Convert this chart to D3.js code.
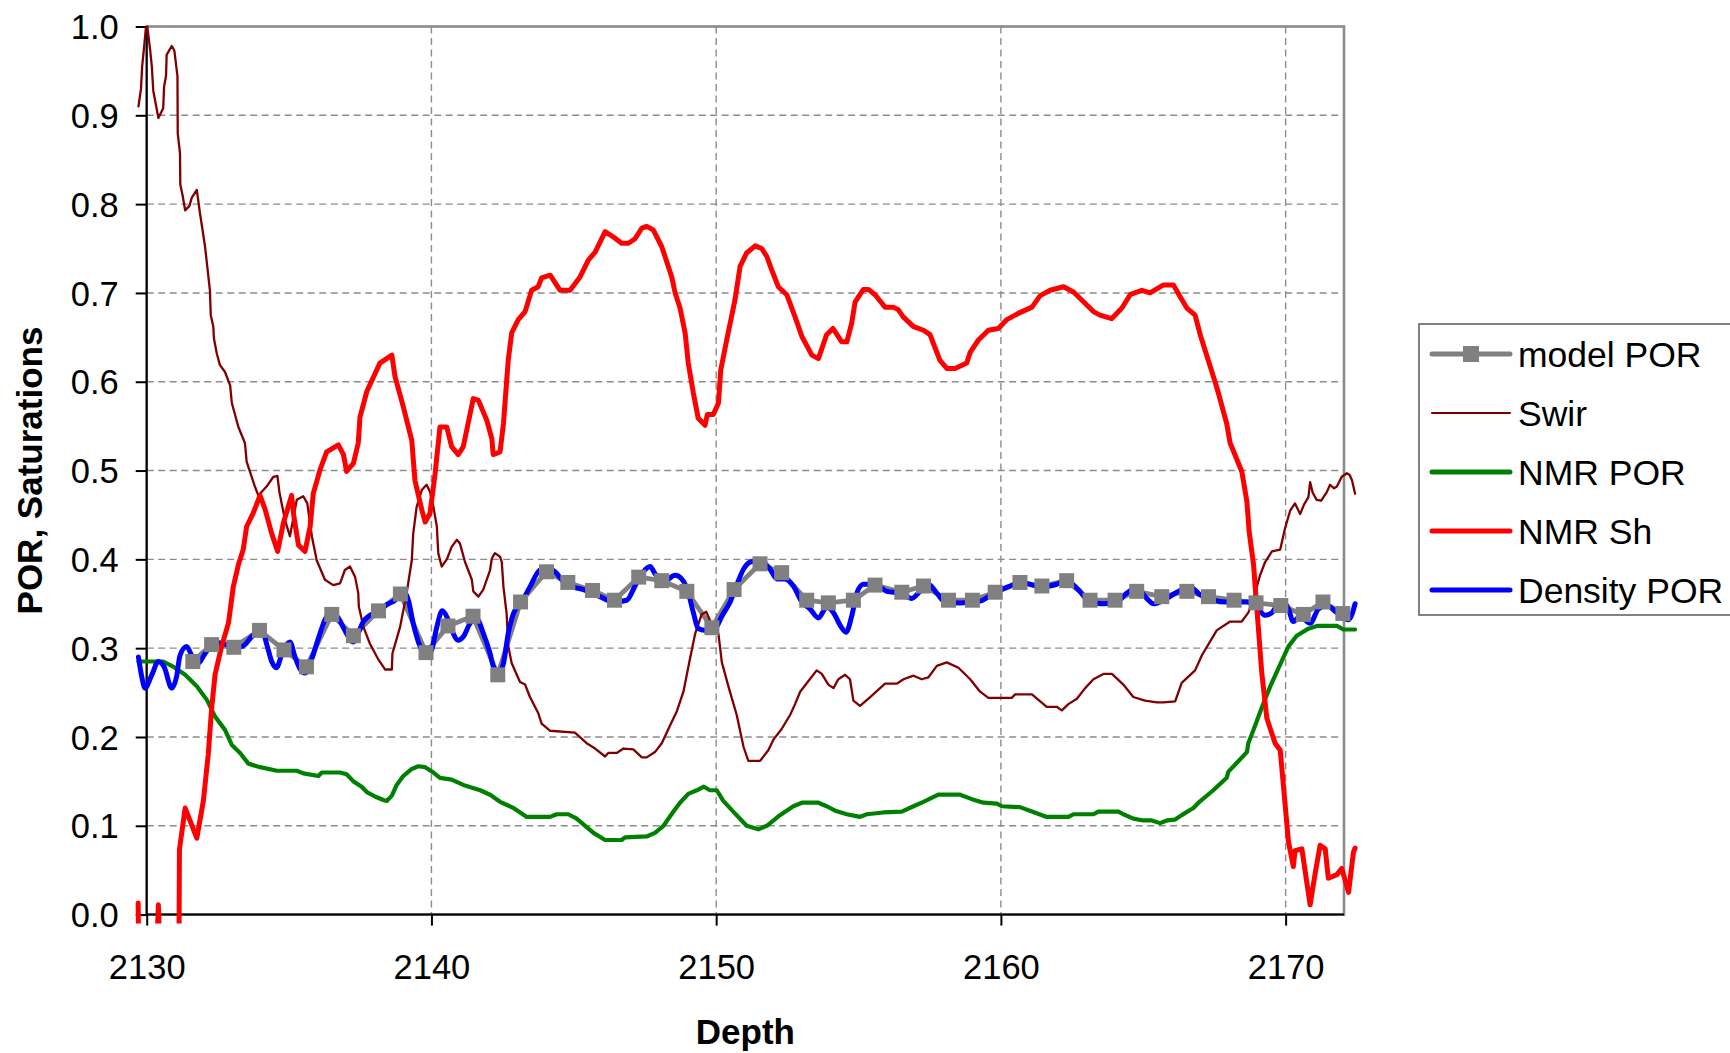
<!DOCTYPE html>
<html>
<head>
<meta charset="utf-8">
<script src="https://cdn.jsdelivr.net/npm/d3@7"></script>
<style>
  html, body { margin: 0; padding: 0; background: #ffffff; }
  svg { display: block; }
  text { font-family: "Liberation Sans", Arial, Helvetica, sans-serif; fill: #000; }
</style>
</head>
<body>
<svg id="chart" width="1730" height="1053"></svg>
<script>
// ---- axis ticks -------------------------------------------------------
const depthTicks = [2130, 2140, 2150, 2160, 2170];
const porTicks = [0.0, 0.1, 0.2, 0.3, 0.4, 0.5, 0.6, 0.7, 0.8, 0.9, 1.0];
const depthTitle = "Depth";
const porTitle = "POR, Saturations";
const seriesNames = ["model POR", "Swir", "NMR POR", "NMR Sh", "Density POR"];

// ---- series: [depth, value] -------------------------------------------
const modelPor = [
  [2131.62,0.285],[2132.28,0.304],[2133.06,0.301],[2133.96,0.320],[2134.82,0.298],
  [2135.61,0.279],[2136.50,0.338],[2137.26,0.314],[2138.14,0.342],[2138.91,0.361],
  [2139.81,0.295],[2140.58,0.325],[2141.46,0.336],[2142.33,0.270],[2143.13,0.352],
  [2144.04,0.386],[2144.79,0.374],[2145.66,0.365],[2146.43,0.354],[2147.28,0.380],
  [2148.09,0.376],[2148.97,0.364],[2149.85,0.323],[2150.63,0.366],[2151.54,0.395],
  [2152.30,0.385],[2153.18,0.354],[2153.94,0.351],[2154.82,0.354],[2155.58,0.371],
  [2156.52,0.363],[2157.28,0.370],[2158.16,0.354],[2159.00,0.354],[2159.80,0.363],
  [2160.67,0.374],[2161.44,0.370],[2162.31,0.376],[2163.13,0.354],[2164.01,0.354],
  [2164.77,0.364],[2165.65,0.358],[2166.53,0.364],[2167.29,0.358],[2168.19,0.354],
  [2168.96,0.351],[2169.83,0.348],[2170.62,0.338],[2171.31,0.352],[2172.01,0.339]
];

const swir = [
  [2129.71,0.910],[2129.80,0.930],[2129.84,0.955],[2129.90,0.974],[2129.97,0.998],
  [2130.02,1.000],[2130.12,0.974],[2130.18,0.955],[2130.23,0.928],[2130.41,0.897],
  [2130.58,0.908],[2130.61,0.932],[2130.68,0.945],[2130.70,0.968],[2130.88,0.978],
  [2130.97,0.973],[2131.08,0.944],[2131.09,0.880],[2131.17,0.857],[2131.18,0.822],
  [2131.26,0.810],[2131.35,0.793],[2131.50,0.798],[2131.58,0.807],[2131.76,0.816],
  [2131.87,0.790],[2132.05,0.752],[2132.22,0.703],[2132.25,0.675],[2132.34,0.662],
  [2132.36,0.649],[2132.46,0.632],[2132.57,0.619],[2132.75,0.611],[2132.93,0.596],
  [2132.99,0.576],[2133.22,0.549],[2133.45,0.531],[2133.51,0.510],[2133.80,0.482],
  [2133.92,0.472],[2134.21,0.482],[2134.45,0.493],[2134.59,0.494],[2134.66,0.476],
  [2134.74,0.463],[2134.86,0.444],[2135.03,0.426],[2135.27,0.467],[2135.50,0.471],
  [2135.64,0.463],[2135.80,0.426],[2135.97,0.399],[2136.26,0.377],[2136.55,0.371],
  [2136.79,0.373],[2136.96,0.388],[2137.14,0.392],[2137.32,0.380],[2137.43,0.362],
  [2137.45,0.347],[2137.61,0.324],[2137.84,0.305],[2138.14,0.287],[2138.37,0.276],
  [2138.61,0.276],[2138.63,0.294],[2138.90,0.324],[2139.13,0.362],[2139.31,0.399],
  [2139.36,0.429],[2139.48,0.459],[2139.66,0.478],[2139.83,0.484],[2139.95,0.476],
  [2140.07,0.459],[2140.19,0.437],[2140.24,0.407],[2140.36,0.392],[2140.54,0.400],
  [2140.71,0.414],[2140.89,0.422],[2141.00,0.418],[2141.18,0.397],[2141.42,0.377],
  [2141.47,0.364],[2141.65,0.358],[2141.82,0.366],[2142.06,0.388],[2142.12,0.401],
  [2142.23,0.407],[2142.41,0.403],[2142.47,0.397],[2142.53,0.369],[2142.64,0.339],
  [2142.70,0.302],[2142.82,0.283],[2143.11,0.262],[2143.29,0.259],[2143.46,0.245],
  [2143.75,0.227],[2143.87,0.215],[2144.17,0.207],[2145.04,0.205],[2145.45,0.193],
  [2145.75,0.187],[2146.10,0.178],[2146.21,0.182],[2146.51,0.182],[2146.74,0.187],
  [2147.09,0.186],[2147.39,0.177],[2147.56,0.177],[2147.85,0.183],[2148.09,0.193],
  [2148.38,0.213],[2148.62,0.229],[2148.85,0.251],[2149.08,0.288],[2149.26,0.316],
  [2149.49,0.338],[2149.65,0.341],[2149.80,0.330],[2150.08,0.316],[2150.20,0.284],
  [2150.43,0.257],[2150.72,0.225],[2150.96,0.189],[2151.13,0.173],[2151.54,0.173],
  [2151.83,0.185],[2152.01,0.197],[2152.30,0.209],[2152.60,0.225],[2152.77,0.237],
  [2152.95,0.251],[2153.24,0.263],[2153.53,0.275],[2153.71,0.271],[2153.94,0.259],
  [2154.12,0.255],[2154.29,0.265],[2154.53,0.270],[2154.70,0.265],[2154.82,0.241],
  [2155.05,0.235],[2155.41,0.245],[2155.93,0.260],[2156.34,0.260],[2156.58,0.265],
  [2156.93,0.269],[2157.22,0.265],[2157.45,0.267],[2157.75,0.280],[2158.10,0.284],
  [2158.51,0.278],[2158.92,0.265],[2159.27,0.251],[2159.56,0.244],[2160.38,0.244],
  [2160.50,0.248],[2161.09,0.248],[2161.61,0.234],[2161.96,0.234],[2162.14,0.230],
  [2162.37,0.237],[2162.67,0.243],[2162.96,0.255],[2163.25,0.265],[2163.60,0.271],
  [2163.90,0.271],[2164.30,0.259],[2164.65,0.245],[2165.06,0.241],[2165.48,0.239],
  [2165.71,0.239],[2166.12,0.240],[2166.35,0.261],[2166.82,0.275],[2167.06,0.292],
  [2167.58,0.320],[2168.05,0.330],[2168.46,0.330],[2168.69,0.340],[2168.87,0.356],
  [2169.10,0.382],[2169.28,0.397],[2169.52,0.409],[2169.81,0.411],[2169.98,0.435],
  [2170.16,0.455],[2170.33,0.463],[2170.51,0.451],[2170.65,0.462],[2170.80,0.470],
  [2170.86,0.487],[2170.95,0.475],[2171.09,0.467],[2171.25,0.466],[2171.45,0.476],
  [2171.56,0.484],[2171.70,0.480],[2171.80,0.482],[2171.97,0.493],[2172.15,0.497],
  [2172.25,0.495],[2172.33,0.489],[2172.44,0.474]
];

const nmrPor = [
  [2129.71,0.285],[2130.58,0.285],[2130.94,0.279],[2131.35,0.270],[2131.76,0.257],
  [2132.11,0.242],[2132.40,0.223],[2132.75,0.208],[2132.99,0.191],[2133.28,0.182],
  [2133.57,0.170],[2133.98,0.166],[2134.57,0.162],[2135.27,0.162],[2135.50,0.159],
  [2136.03,0.156],[2136.15,0.160],[2136.79,0.160],[2137.02,0.158],[2137.26,0.150],
  [2137.55,0.144],[2137.73,0.138],[2138.02,0.133],[2138.31,0.129],[2138.43,0.128],
  [2138.61,0.134],[2138.78,0.146],[2139.01,0.156],[2139.31,0.164],[2139.54,0.167],
  [2139.78,0.166],[2140.07,0.160],[2140.30,0.154],[2140.71,0.152],[2141.12,0.146],
  [2141.71,0.140],[2142.06,0.135],[2142.41,0.127],[2142.88,0.120],[2143.35,0.110],
  [2144.17,0.110],[2144.40,0.113],[2144.81,0.113],[2145.10,0.108],[2145.69,0.092],
  [2146.10,0.084],[2146.68,0.084],[2146.80,0.087],[2147.56,0.088],[2147.85,0.092],
  [2148.15,0.100],[2148.50,0.116],[2148.73,0.126],[2149.02,0.136],[2149.32,0.140],
  [2149.57,0.144],[2149.78,0.140],[2150.02,0.140],[2150.25,0.128],[2150.60,0.116],
  [2151.07,0.100],[2151.48,0.096],[2151.78,0.100],[2152.24,0.112],[2152.71,0.122],
  [2153.01,0.126],[2153.59,0.126],[2153.88,0.122],[2154.18,0.117],[2154.59,0.113],
  [2155.05,0.110],[2155.29,0.113],[2155.87,0.115],[2156.52,0.116],[2156.93,0.122],
  [2157.28,0.127],[2157.80,0.135],[2158.57,0.135],[2158.98,0.130],[2159.39,0.126],
  [2159.86,0.125],[2160.03,0.122],[2160.67,0.121],[2161.09,0.116],[2161.61,0.110],
  [2162.37,0.110],[2162.55,0.113],[2163.25,0.113],[2163.42,0.116],[2164.13,0.116],
  [2164.30,0.113],[2164.65,0.108],[2165.00,0.106],[2165.30,0.106],[2165.59,0.103],
  [2165.83,0.106],[2166.12,0.107],[2166.35,0.112],[2166.76,0.120],[2166.94,0.126],
  [2167.46,0.140],[2167.93,0.154],[2167.99,0.161],[2168.29,0.171],[2168.64,0.183],
  [2168.69,0.193],[2168.93,0.213],[2169.16,0.233],[2169.46,0.257],[2169.87,0.286],
  [2170.10,0.302],[2170.39,0.314],[2170.80,0.322],[2171.10,0.325],[2171.80,0.325],
  [2172.03,0.321],[2172.44,0.321]
];

const nmrSh = [
  [2129.70,0.013],[2129.73,-0.06],[2130.33,-0.06],[2130.41,0.011],[2130.48,-0.06],
  [2131.13,-0.06],[2131.15,0.073],[2131.35,0.120],[2131.76,0.086],[2131.99,0.128],
  [2132.16,0.180],[2132.28,0.232],[2132.40,0.270],[2132.63,0.302],[2132.87,0.328],
  [2133.04,0.369],[2133.22,0.394],[2133.39,0.411],[2133.51,0.437],[2133.74,0.452],
  [2133.98,0.472],[2134.16,0.456],[2134.39,0.429],[2134.60,0.409],[2134.80,0.441],
  [2135.09,0.472],[2135.17,0.448],[2135.33,0.416],[2135.56,0.409],[2135.74,0.437],
  [2135.85,0.474],[2136.09,0.501],[2136.32,0.521],[2136.73,0.529],[2136.91,0.518],
  [2137.02,0.499],[2137.26,0.508],[2137.43,0.531],[2137.49,0.560],[2137.73,0.589],
  [2138.19,0.621],[2138.61,0.630],[2138.72,0.606],[2139.01,0.572],[2139.31,0.534],
  [2139.42,0.489],[2139.66,0.456],[2139.78,0.442],[2139.95,0.452],[2140.13,0.497],
  [2140.30,0.549],[2140.54,0.549],[2140.71,0.527],[2140.94,0.518],[2141.12,0.527],
  [2141.47,0.581],[2141.65,0.579],[2141.94,0.557],[2142.12,0.536],[2142.17,0.518],
  [2142.41,0.521],[2142.53,0.553],[2142.64,0.600],[2142.70,0.625],[2142.82,0.655],
  [2143.05,0.670],[2143.29,0.679],[2143.52,0.703],[2143.75,0.707],[2143.87,0.717],
  [2144.17,0.720],[2144.52,0.703],[2144.87,0.703],[2145.22,0.718],[2145.51,0.737],
  [2145.75,0.746],[2146.10,0.769],[2146.39,0.763],[2146.68,0.756],[2146.92,0.756],
  [2147.15,0.761],[2147.39,0.773],[2147.56,0.775],[2147.79,0.771],[2148.09,0.752],
  [2148.44,0.718],[2148.56,0.700],[2148.73,0.683],[2148.91,0.655],[2149.02,0.621],
  [2149.20,0.587],[2149.37,0.559],[2149.61,0.551],[2149.69,0.563],[2149.90,0.563],
  [2150.08,0.576],[2150.16,0.613],[2150.37,0.647],[2150.66,0.692],[2150.84,0.730],
  [2151.07,0.745],[2151.37,0.753],[2151.60,0.750],[2151.78,0.741],[2151.95,0.726],
  [2152.18,0.707],[2152.48,0.698],[2152.77,0.673],[2153.01,0.651],[2153.36,0.630],
  [2153.59,0.626],[2153.88,0.653],[2154.10,0.660],[2154.41,0.645],[2154.59,0.645],
  [2154.76,0.666],[2154.88,0.690],[2155.17,0.704],[2155.35,0.704],[2155.58,0.698],
  [2155.93,0.684],[2156.22,0.684],[2156.40,0.681],[2156.57,0.673],[2156.93,0.662],
  [2157.28,0.658],[2157.51,0.653],[2157.69,0.638],[2157.86,0.624],[2158.10,0.615],
  [2158.39,0.615],[2158.80,0.621],[2158.92,0.633],[2159.21,0.647],[2159.56,0.658],
  [2159.91,0.660],[2160.21,0.670],[2160.61,0.677],[2161.09,0.684],[2161.38,0.697],
  [2161.73,0.703],[2162.20,0.707],[2162.55,0.701],[2163.25,0.679],[2163.48,0.675],
  [2163.89,0.671],[2164.25,0.683],[2164.54,0.698],[2164.95,0.703],[2165.24,0.700],
  [2165.71,0.709],[2166.06,0.709],[2166.29,0.696],[2166.53,0.683],[2166.82,0.675],
  [2167.00,0.653],[2167.52,0.600],[2167.64,0.587],[2167.93,0.553],[2168.05,0.531],
  [2168.46,0.499],[2168.64,0.465],[2168.72,0.431],[2168.87,0.395],[2169.04,0.324],
  [2169.16,0.273],[2169.34,0.221],[2169.63,0.193],[2169.81,0.185],[2170.10,0.082],
  [2170.27,0.054],[2170.33,0.072],[2170.57,0.074],[2170.86,0.011],[2171.04,0.047],
  [2171.21,0.078],[2171.39,0.074],[2171.50,0.041],[2171.80,0.045],[2171.97,0.052],
  [2172.21,0.025],[2172.38,0.070],[2172.44,0.075]
];

const densityPor = [
  [2129.71,0.290],[2129.82,0.269],[2129.94,0.255],[2130.18,0.270],[2130.41,0.285],
  [2130.61,0.279],[2130.88,0.255],[2131.05,0.268],[2131.17,0.292],[2131.40,0.302],
  [2131.58,0.292],[2131.81,0.283],[2132.05,0.294],[2132.40,0.307],[2132.81,0.304],
  [2133.34,0.302],[2133.75,0.315],[2134.05,0.320],[2134.21,0.305],[2134.39,0.285],
  [2134.55,0.278],[2134.80,0.298],[2135.03,0.307],[2135.21,0.290],[2135.38,0.277],
  [2135.56,0.272],[2135.80,0.288],[2136.03,0.311],[2136.26,0.332],[2136.50,0.341],
  [2136.73,0.334],[2136.96,0.320],[2137.26,0.307],[2137.43,0.317],[2137.61,0.330],
  [2137.84,0.337],[2138.14,0.341],[2138.43,0.349],[2138.72,0.354],[2139.01,0.364],
  [2139.19,0.354],[2139.36,0.328],[2139.60,0.302],[2139.83,0.290],[2140.01,0.298],
  [2140.19,0.324],[2140.38,0.342],[2140.56,0.334],[2140.72,0.320],[2140.94,0.309],
  [2141.12,0.313],[2141.36,0.328],[2141.59,0.333],[2141.82,0.317],[2142.06,0.294],
  [2142.17,0.280],[2142.35,0.272],[2142.53,0.283],[2142.70,0.317],[2142.88,0.339],
  [2143.17,0.352],[2143.46,0.369],[2143.81,0.388],[2144.11,0.390],[2144.34,0.386],
  [2144.75,0.371],[2145.34,0.366],[2145.92,0.358],[2146.39,0.352],[2146.86,0.354],
  [2147.15,0.370],[2147.44,0.386],[2147.68,0.392],[2147.85,0.384],[2148.20,0.376],
  [2148.56,0.382],[2148.79,0.378],[2148.97,0.368],[2149.20,0.340],[2149.37,0.322],
  [2149.67,0.320],[2149.96,0.322],[2150.20,0.336],[2150.49,0.352],[2150.78,0.376],
  [2150.96,0.389],[2151.19,0.397],[2151.54,0.399],[2151.89,0.389],[2152.13,0.378],
  [2152.42,0.378],[2152.71,0.370],[2153.01,0.352],[2153.30,0.344],[2153.59,0.334],
  [2153.88,0.346],[2154.12,0.340],[2154.35,0.326],[2154.56,0.318],[2154.76,0.336],
  [2154.94,0.362],[2155.17,0.372],[2155.58,0.372],[2155.99,0.364],[2156.46,0.362],
  [2156.87,0.356],[2157.16,0.364],[2157.45,0.372],[2157.75,0.362],[2158.04,0.352],
  [2158.57,0.351],[2159.27,0.353],[2159.80,0.363],[2160.32,0.370],[2160.67,0.374],
  [2161.44,0.369],[2161.96,0.372],[2162.31,0.376],[2162.72,0.366],[2163.13,0.352],
  [2163.60,0.350],[2164.07,0.352],[2164.42,0.362],[2164.77,0.368],[2165.12,0.356],
  [2165.36,0.350],[2165.71,0.354],[2166.18,0.363],[2166.65,0.369],[2167.00,0.360],
  [2167.46,0.354],[2167.93,0.352],[2168.64,0.352],[2169.04,0.344],[2169.28,0.337],
  [2169.52,0.340],[2169.75,0.349],[2170.04,0.348],[2170.27,0.330],[2170.51,0.336],
  [2170.86,0.328],[2171.15,0.344],[2171.45,0.348],[2171.80,0.340],[2172.21,0.332],
  [2172.44,0.350]
];

// ---- layout -----------------------------------------------------------
const svg = d3.select("#chart");
const plot = { left: 146.7, right: 1344, top: 26.5, bottom: 914.6 };

const x = d3.scaleLinear().domain([2130, 2172.05]).range([plot.left, plot.right]);
const y = d3.scaleLinear().domain([0, 1]).range([plot.bottom, plot.top]);

const gridColor = "#8c8c8c";
const tickFont = 34.5;

// clip area: lines run freely sideways, values below zero are cut just under the axis
svg.append("defs").append("clipPath").attr("id", "dataClip")
  .append("rect").attr("x", 0).attr("y", 0).attr("width", 1730).attr("height", y(0) + 9);

// ---- gridlines --------------------------------------------------------
const grid = svg.append("g").attr("class", "grid");
grid.selectAll("line.h").data(porTicks.filter(v => v > 0 && v < 1)).join("line")
  .attr("class", "h")
  .attr("x1", plot.left).attr("x2", plot.right)
  .attr("y1", d => y(d)).attr("y2", d => y(d))
  .attr("stroke", gridColor).attr("stroke-width", 1.4).attr("stroke-dasharray", "7,4.5");
grid.selectAll("line.v").data(depthTicks.filter(v => v > 2130)).join("line")
  .attr("class", "v")
  .attr("x1", d => x(d)).attr("x2", d => x(d))
  .attr("y1", plot.top).attr("y2", plot.bottom)
  .attr("stroke", gridColor).attr("stroke-width", 1.4).attr("stroke-dasharray", "7,4.5");

// plot-area frame (top and right edges)
svg.append("rect")
  .attr("x", plot.left).attr("y", plot.top)
  .attr("width", plot.right - plot.left).attr("height", plot.bottom - plot.top)
  .attr("fill", "none").attr("stroke", "#8a8a8a").attr("stroke-width", 2.6);

// ---- axes -------------------------------------------------------------
const xAxis = d3.axisBottom(x).tickValues(depthTicks).tickSize(11).tickPadding(29)
  .tickFormat(d3.format("d"));
const yAxis = d3.axisLeft(y).tickValues(porTicks).tickSize(11).tickPadding(17)
  .tickFormat(d3.format(".1f"));

const gx = svg.append("g").attr("transform", `translate(0,${plot.bottom})`).call(xAxis);
const gy = svg.append("g").attr("transform", `translate(${plot.left},0)`).call(yAxis);

[gx, gy].forEach(g => {
  g.select(".domain").attr("stroke", "#000").attr("stroke-width", 2);
  g.selectAll(".tick line").attr("stroke", "#000").attr("stroke-width", 2);
  g.selectAll(".tick text")
    .attr("font-family", '"Liberation Sans", Arial, sans-serif')
    .attr("font-size", tickFont).attr("fill", "#000");
});
gx.select(".domain").attr("d", `M${plot.left},0H${plot.right}`);
gy.select(".domain").attr("d", `M0,${plot.top}V${plot.bottom}`);
gy.selectAll(".tick text").attr("dy", "0.35em");
gx.selectAll(".tick text").attr("dy", "0.71em");

// axis titles
svg.append("text")
  .attr("x", (plot.left + plot.right) / 2).attr("y", 1044)
  .attr("text-anchor", "middle").attr("font-weight", "bold").attr("font-size", 35)
  .text(depthTitle);
svg.append("text")
  .attr("transform", `translate(41.5,${(plot.top + plot.bottom) / 2}) rotate(-90)`)
  .attr("text-anchor", "middle").attr("font-weight", "bold").attr("font-size", 35)
  .text(porTitle);

// ---- series -----------------------------------------------------------
const line = d3.line().x(d => x(d[0])).y(d => y(d[1]));
const smooth = d3.line().x(d => x(d[0])).y(d => y(d[1])).curve(d3.curveMonotoneX);

const series = [
  { name: seriesNames[0], data: modelPor,   color: "#808080", width: 4.8, gen: line },
  { name: seriesNames[1], data: swir,       color: "#800000", width: 2.3, gen: line },
  { name: seriesNames[2], data: nmrPor,     color: "#008000", width: 4.2, gen: line },
  { name: seriesNames[4], data: densityPor, color: "#0000ff", width: 5,   gen: smooth },
  { name: seriesNames[3], data: nmrSh,      color: "#ff0000", width: 5,   gen: line }
];

const lines = svg.append("g").attr("clip-path", "url(#dataClip)");
lines.selectAll("path").data(series).join("path")
  .attr("d", s => s.gen(s.data))
  .attr("fill", "none")
  .attr("stroke", s => s.color)
  .attr("stroke-width", s => s.width)
  .attr("stroke-linejoin", "round")
  .attr("stroke-linecap", "round");

// model POR markers
const markerSize = 15;
svg.append("g").selectAll("rect").data(modelPor).join("rect")
  .attr("x", d => x(d[0]) - markerSize / 2)
  .attr("y", d => y(d[1]) - markerSize / 2)
  .attr("width", markerSize).attr("height", markerSize)
  .attr("fill", "#808080");

// ---- legend -----------------------------------------------------------
const legendItems = [
  { name: seriesNames[0], color: "#808080", width: 5,   marker: true },
  { name: seriesNames[1], color: "#800000", width: 2.2, marker: false },
  { name: seriesNames[2], color: "#008000", width: 5,   marker: false },
  { name: seriesNames[3], color: "#ff0000", width: 5,   marker: false },
  { name: seriesNames[4], color: "#0000ff", width: 5,   marker: false }
];
const legend = svg.append("g");
legend.append("rect")
  .attr("x", 1419).attr("y", 324).attr("width", 330).attr("height", 291)
  .attr("fill", "#fff").attr("stroke", "#5a5a5a").attr("stroke-width", 1.5);
const rowY = i => 354 + i * 59;
const items = legend.selectAll("g.item").data(legendItems).join("g").attr("class", "item");
items.append("line")
  .attr("x1", 1432).attr("x2", 1510)
  .attr("y1", (d, i) => rowY(i)).attr("y2", (d, i) => rowY(i))
  .attr("stroke", d => d.color).attr("stroke-width", d => d.width)
  .attr("stroke-linecap", "round");
items.filter(d => d.marker).append("rect")
  .attr("x", 1471 - 8).attr("y", (d, i) => rowY(i) - 8)
  .attr("width", 16).attr("height", 16).attr("fill", "#808080");
items.append("text")
  .attr("x", 1518).attr("y", (d, i) => rowY(i) + 12.5)
  .attr("font-size", 35.5)
  .text(d => d.name);
</script>
</body>
</html>
